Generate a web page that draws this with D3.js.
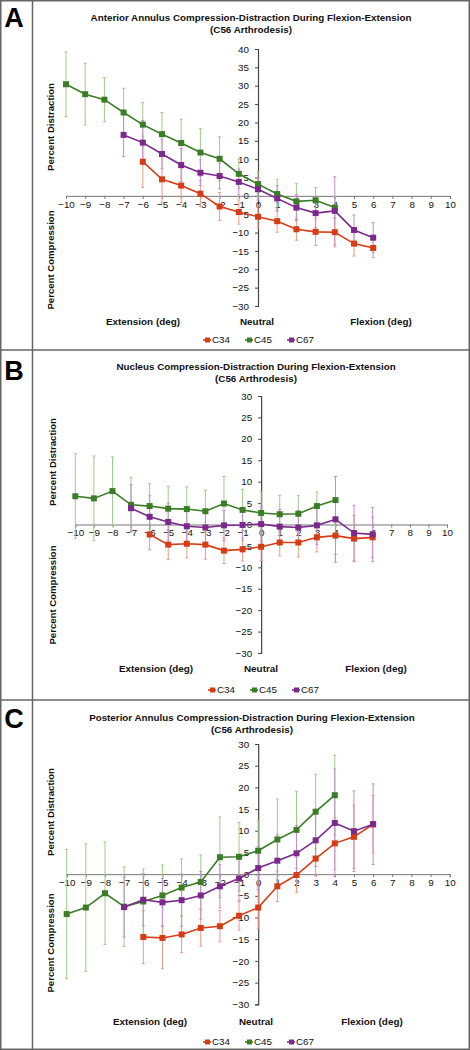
<!DOCTYPE html>
<html><head><meta charset="utf-8">
<script src="https://cdn.jsdelivr.net/npm/d3@7"></script>
<style>body{margin:0;background:#fff}svg{display:block}</style>
</head><body>
<script>
// ---------- DATA ----------
const seriesNames = ["C34", "C45", "C67"];
const xTicks = d3.range(-10, 11, 1);
const yTicksA = d3.range(-30, 41, 5);
const yTicksBC = d3.range(-30, 31, 5);

const xC34 = d3.range(-6, 7);
const xC45 = d3.range(-10, 5);
const xC67 = d3.range(-7, 7);

// Panel A: Anterior annulus
const A_C34 = [9.3, 4.5, 2.8, 0.6, -2.9, -4.4, -5.7, -6.9, -9.1, -9.8, -9.9, -13.0, -14.2];
const A_C34_err = [7, 6.5, 4.6, 3.5, 3.8, 3.3, 3, 3, 3, 3.7, 4, 3.4, 2.6];
const A_C45 = [30.4, 27.7, 26.2, 22.7, 19.4, 16.8, 14.4, 11.8, 10.1, 6.0, 3.2, 0.5, -1.5, -1.2, -3.2];
const A_C45_err = [8.8, 8.4, 6, 6.6, 6, 5.9, 6.5, 6.5, 6, 4, 3.5, 4, 4.9, 3.5, 3];
const A_C67 = [16.6, 14.5, 11.4, 8.4, 6.3, 5.4, 3.8, 1.8, -0.7, -3.2, -4.7, -4.1, -9.3, -11.4];
const A_C67_err = [5.9, 6, 4, 4.5, 3.5, 3.5, 3.5, 3, 3.5, 3.5, 4, 9.3, 4.1, 4.1];

// Panel B: Nucleus
const B_C34 = [-2.3, -4.7, -4.5, -4.7, -6.1, -5.8, -5.2, -4.2, -4.2, -3.0, -2.6, -3.3, -3.0];
const B_C34_err = [3.6, 3.5, 3.3, 3.4, 3, 2.7, 3.2, 3.1, 3.4, 3.4, 4.4, 5.4, 4.7];
const B_C45 = [6.6, 6.1, 7.8, 4.6, 4.3, 3.7, 3.6, 3.1, 4.9, 3.4, 2.7, 2.4, 2.5, 4.3, 5.7];
const B_C45_err = [9.9, 9.9, 8, 6.4, 5.2, 5.2, 5.2, 4.9, 6.3, 4.8, 4.9, 4.4, 4.3, 3.3, 5.5];
const B_C67 = [3.8, 1.8, 0.6, -0.4, -0.7, -0.2, -0.1, 0.1, -0.5, -0.7, -0.2, 1.2, -2.0, -2.3];
const B_C67_err = [5.5, 4.9, 4.4, 3.5, 3.5, 3.5, 3.5, 4, 4, 4, 4.5, 10, 6.5, 6.3];

// Panel C: Posterior annulus
const C_C34 = [-14.5, -14.7, -13.9, -12.4, -12.0, -9.6, -7.7, -2.8, -0.2, 3.6, 7.1, 8.6, 11.5];
const C_C34_err = [6.1, 7.1, 4.2, 4.2, 3.6, 3.3, 4.8, 3.5, 4, 4, 6, 7.3, 6.6];
const C_C45 = [-9.2, -7.7, -4.4, -7.5, -6.3, -4.9, -3.1, -1.8, 3.9, 4.0, 5.4, 8.0, 10.2, 14.4, 18.2];
const C_C45_err = [14.9, 14.7, 11.8, 9.2, 7.5, 7, 6.6, 6.2, 9.3, 7.9, 7, 9.3, 8.9, 8.6, 9.2];
const C_C67 = [-7.6, -5.9, -6.5, -6.0, -4.9, -2.8, -1.0, 1.4, 3.1, 4.8, 7.8, 11.8, 9.9, 11.5];
const C_C67_err = [6.9, 6, 5.5, 6, 5.5, 5, 5, 5, 6, 6.4, 6, 12.4, 9.3, 9.3];

const titlesA = ["Anterior Annulus Compression-Distraction During Flexion-Extension", "(C56 Arthrodesis)"];
const titlesB = ["Nucleus Compression-Distraction During Flexion-Extension", "(C56 Arthrodesis)"];
const titlesC = ["Posterior Annulus Compression-Distraction During Flexion-Extension", "(C56 Arthrodesis)"];
const axisWords = ["Extension (deg)", "Neutral", "Flexion (deg)"];
const yWords = ["Percent Distraction", "Percent Compression"];

// ---------- STYLE ----------
const colors = {C34: "#d63d17", C45: "#3b7d26", C67: "#7b2a8c"};
const errColors = {C34: "#ee9a86", C45: "#9fcb8a", C67: "#be90c8"};
const FONT = "'Liberation Sans', Arial, Helvetica, sans-serif";

const W = 470, H = 1050;
const svg = d3.select("body").append("svg").attr("width", W).attr("height", H)
  .style("font-family", FONT);

svg.append("rect").attr("x", 0).attr("y", 0).attr("width", W).attr("height", H).attr("fill", "#fff");

function zip(xs, ys, es) { return xs.map((x, i) => ({x, y: ys[i], e: es[i]})); }

function drawPanel(p) {
  const g = svg.append("g");
  const x = d3.scaleLinear().domain([-10, 10]).range([p.xl, p.xr]);
  const y = d3.scaleLinear().domain(p.yDomain).range([p.yb, p.yt]);
  const x0 = x(0), y0 = y(0);

  // letter
  g.append("text").attr("x", 14).attr("y", p.letterY).attr("text-anchor", "middle")
    .attr("font-size", 27).attr("font-weight", "bold").attr("fill", "#000").text(p.letter);

  // title
  p.titles.forEach((t, i) => {
    g.append("text").attr("x", p.titleX).attr("y", p.titleY + i * 12.3).attr("text-anchor", "middle")
      .attr("font-size", 9.8).attr("font-weight", "bold").attr("fill", "#111").text(t);
  });

  // y axis
  const yAx = g.append("g").attr("transform", `translate(${x0},0)`)
    .call(d3.axisLeft(y).tickValues(p.yTicks).tickSize(3).tickPadding(6).tickFormat(d3.format("d")));
  yAx.select(".domain").attr("stroke", "#444").attr("stroke-width", 1.2);
  yAx.selectAll(".tick line").attr("stroke", "#444");
  yAx.selectAll("text").attr("font-size", 9.8).attr("fill", "#111").attr("font-family", FONT);

  // x axis
  const xAx = g.append("g").attr("transform", `translate(0,${y0})`)
    .call(d3.axisBottom(x).tickValues(xTicks).tickSize(3).tickPadding(2).tickFormat(d3.format("d")));
  xAx.select(".domain").attr("stroke", "#777").attr("stroke-width", 1);
  xAx.selectAll(".tick line").attr("stroke", "#777");
  xAx.selectAll("text").attr("font-size", 9.8).attr("fill", "#111").attr("font-family", FONT);

  // y labels
  g.append("text").attr("transform", `translate(${p.ylabX},${p.distY}) rotate(-90)`)
    .attr("text-anchor", "middle").attr("dy", "0.35em").attr("font-size", 9.6).attr("font-weight", "bold")
    .attr("fill", "#111").text(yWords[0]);
  g.append("text").attr("transform", `translate(${p.ylabX},${p.compY}) rotate(-90)`)
    .attr("text-anchor", "middle").attr("dy", "0.35em").attr("font-size", 9.6).attr("font-weight", "bold")
    .attr("fill", "#111").text(yWords[1]);

  // x labels
  p.xWordX.forEach((xx, i) => {
    g.append("text").attr("x", xx).attr("y", p.xWordY).attr("dy", "0.35em").attr("text-anchor", "middle")
      .attr("font-size", 9.9).attr("font-weight", "bold").attr("fill", "#111").text(axisWords[i]);
  });

  // error bars
  p.series.forEach(s => {
    const eg = g.append("g").attr("stroke", errColors[s.name]).attr("stroke-width", 1).attr("fill", "none");
    s.data.forEach(d => {
      eg.append("line").attr("x1", x(d.x)).attr("x2", x(d.x)).attr("y1", y(d.y - d.e)).attr("y2", y(d.y + d.e));
      [d.y - d.e, d.y + d.e].forEach(v => {
        eg.append("line").attr("x1", x(d.x) - 1.5).attr("x2", x(d.x) + 1.5).attr("y1", y(v)).attr("y2", y(v));
      });
    });
  });

  // lines & markers
  const line = d3.line().x(d => x(d.x)).y(d => y(d.y));
  p.series.forEach(s => {
    g.append("path").datum(s.data).attr("d", line).attr("fill", "none")
      .attr("stroke", colors[s.name]).attr("stroke-width", 1.6);
    g.selectAll(null).data(s.data).enter().append("rect")
      .attr("x", d => x(d.x) - 3).attr("y", d => y(d.y) - 3).attr("width", 6).attr("height", 6)
      .attr("fill", colors[s.name]);
  });

  // legend
  const lg = g.append("g").attr("transform", `translate(${p.legX},${p.legY})`);
  seriesNames.forEach((n, i) => {
    const ox = i * 42;
    lg.append("line").attr("x1", ox).attr("x2", ox + 8).attr("y1", 0).attr("y2", 0)
      .attr("stroke", colors[n]).attr("stroke-width", 1.6);
    lg.append("rect").attr("x", ox + 2).attr("y", -2.5).attr("width", 5).attr("height", 5).attr("fill", colors[n]);
    lg.append("text").attr("x", ox + 9).attr("y", 0).attr("dy", "0.35em").attr("font-size", 9.8)
      .attr("fill", "#111").text(n);
  });
}

drawPanel({
  letter: "A", letterY: 27, titles: titlesA, titleX: 251, titleY: 20.5,
  xl: 66, xr: 450, yDomain: [-30, 40], yt: 49, yb: 306, yTicks: yTicksA,
  ylabX: 51, distY: 127, compY: 260,
  xWordX: [143, 257, 381], xWordY: 322,
  legX: 203, legY: 340,
  series: [
    {name: "C34", data: zip(xC34, A_C34, A_C34_err)},
    {name: "C45", data: zip(xC45, A_C45, A_C45_err)},
    {name: "C67", data: zip(xC67, A_C67, A_C67_err)}
  ]
});
drawPanel({
  letter: "B", letterY: 380, titles: titlesB, titleX: 256, titleY: 369.5,
  xl: 75.3, xr: 447, yDomain: [-30, 30], yt: 396, yb: 653, yTicks: yTicksBC,
  ylabX: 53, distY: 462, compY: 595,
  xWordX: [156, 261, 376], xWordY: 669,
  legX: 208, legY: 690,
  series: [
    {name: "C34", data: zip(xC34, B_C34, B_C34_err)},
    {name: "C45", data: zip(xC45, B_C45, B_C45_err)},
    {name: "C67", data: zip(xC67, B_C67, B_C67_err)}
  ]
});
drawPanel({
  letter: "C", letterY: 728, titles: titlesC, titleX: 252, titleY: 720.5,
  xl: 66.7, xr: 449.7, yDomain: [-30, 30], yt: 744, yb: 1004.3, yTicks: yTicksBC,
  ylabX: 51, distY: 812, compY: 943,
  xWordX: [150, 256, 372], xWordY: 1022,
  legX: 203, legY: 1042,
  series: [
    {name: "C34", data: zip(xC34, C_C34, C_C34_err)},
    {name: "C45", data: zip(xC45, C_C45, C_C45_err)},
    {name: "C67", data: zip(xC67, C_C67, C_C67_err)}
  ]
});

// frame
const fr = svg.append("g").attr("stroke", "#666").attr("fill", "none");
fr.append("rect").attr("x", 0.75).attr("y", 0.75).attr("width", W - 1.5).attr("height", H - 1.5).attr("stroke-width", 1.5);
fr.append("line").attr("x1", 32.5).attr("x2", 32.5).attr("y1", 0).attr("y2", H).attr("stroke-width", 1.5);
fr.append("line").attr("x1", 0).attr("x2", W).attr("y1", 350).attr("y2", 350).attr("stroke-width", 1.5);
fr.append("line").attr("x1", 0).attr("x2", W).attr("y1", 700).attr("y2", 700).attr("stroke-width", 1.5);
</script>
</body></html>
